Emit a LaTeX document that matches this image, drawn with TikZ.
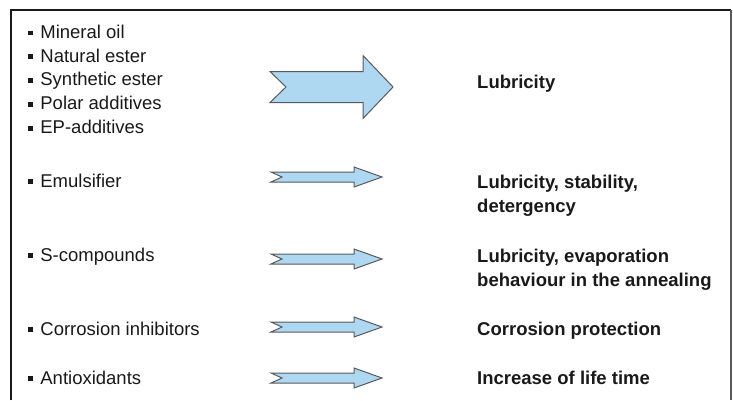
\documentclass[tikz,border=0pt]{standalone}
\usepackage{fontspec}
\setmainfont{Liberation Sans}
\usepackage{tikz}
\usetikzlibrary{positioning}
\usepackage{xcolor}
\definecolor{arrowblue}{RGB}{174,216,241}
\definecolor{arrowgrey}{RGB}{90,90,90}
\definecolor{textdark}{RGB}{25,25,25}
\newcommand{\sqbullet}{\rule[3pt]{4.8pt}{4.8pt}\hspace{7.4pt}}

\begin{document}
\begin{tikzpicture}[
    x=1pt, y=-1pt,
    item/.style={anchor=base west, inner sep=0pt, text=textdark,
        font=\fontsize{18.5}{24}\selectfont},
    effect/.style={item, align=left,
        font=\fontsize{18.5}{24}\selectfont\bfseries},
    arrowbody/.style={draw=arrowgrey, fill=arrowblue, line width=1pt,
        line join=miter},
    pics/bigarrow/.style={code={
        \draw[arrowbody] (0,-15.5) -- (93,-15.5) -- (93,-31.5) -- (123,0)
            -- (93,31.5) -- (93,15.5) -- (0,15.5) -- (16,0) -- cycle;}},
    pics/smallarrow/.style={code={
        \draw[arrowbody] (0,-5) -- (83,-5) -- (83,-10) -- (111,0)
            -- (83,10) -- (83,5) -- (0,5) -- (11,0) -- cycle;}}
]
\useasboundingbox (0,0) rectangle (733,400);

% frame, open at the bottom
\draw[line width=1.1pt, textdark] (11,400) -- (11,10) -- (731,10);
\draw[line width=1.8pt, arrowgrey] (731,10) -- (731,400);

% ingredients
\node[item] (mineral) at (28,38.3) {\sqbullet Mineral oil};
\node[item] (natural) at (28,62.1) {\sqbullet Natural ester};
\node[item] (synthetic) at (28,85.9) {\sqbullet Synthetic ester};
\node[item] (polar) at (28,109.7) {\sqbullet Polar additives};
\node[item] (epadd) at (28,133.5) {\sqbullet EP-additives};
\node[item] (emulsifier) at (28,187) {\sqbullet Emulsifier};
\node[item] (scomp) at (28,261) {\sqbullet S-compounds};
\node[item] (corrinh) at (28,335) {\sqbullet Corrosion inhibitors};
\node[item] (antiox) at (28,384) {\sqbullet Antioxidants};

% effects (two-line nodes sit on their last baseline)
\node[effect] (lubricity) at (477,88.5) {Lubricity};
\node[effect] (lubstab) at (477,212.5) {Lubricity, stability,\\detergency};
\node[effect] (lubevap) at (477,286) {Lubricity, evaporation\\behaviour in the annealing};
\node[effect] (corrprot) at (477,335.5) {Corrosion protection};
\node[effect] (lifetime) at (477,384) {Increase of life time};

% block arrows
\pic at (270,87) {bigarrow};
\pic at (271,177) {smallarrow};
\pic at (271,259) {smallarrow};
\pic at (271,327) {smallarrow};
\pic at (271,378) {smallarrow};
\end{tikzpicture}
\end{document}
